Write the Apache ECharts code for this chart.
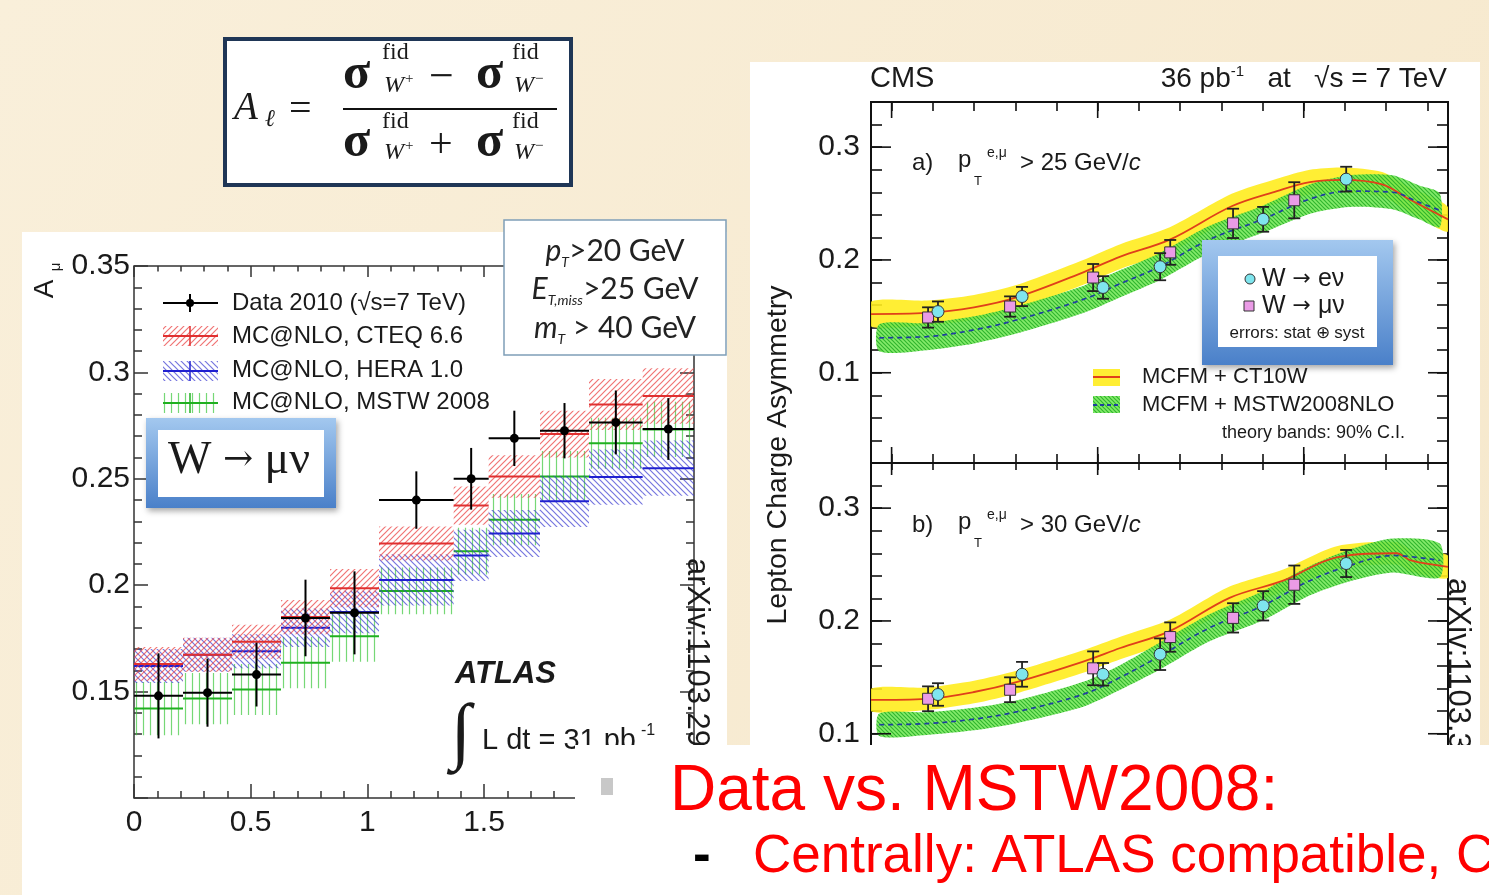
<!DOCTYPE html>
<html>
<head>
<meta charset="utf-8">
<script src="https://cdn.jsdelivr.net/npm/echarts@6.0.0/dist/echarts.min.js"></script>
<style>
html, body { margin: 0; padding: 0; background: #f8eedb; }
#main { width: 1489px; height: 895px; }
</style>
</head>
<body>
<div id="main"></div>
<script>
var SANS = 'Liberation Sans, Arial, sans-serif';
var SERIF = 'Liberation Serif, Times New Roman, serif';

// ATLAS muon charge asymmetry, bins in |eta|
var atlasEdges = [0, 0.21, 0.42, 0.63, 0.84, 1.05, 1.37, 1.52, 1.74, 1.95, 2.18, 2.4];
var atlasData = [0.148, 0.1495, 0.158, 0.1846, 0.187, 0.240, 0.250, 0.269, 0.2726, 0.2765, 0.2734];
var atlasDataErr = [0.020, 0.016, 0.015, 0.018, 0.0195, 0.0135, 0.0145, 0.013, 0.013, 0.015, 0.0145];
var cteq = [0.163, 0.1673, 0.1734, 0.185, 0.1986, 0.2196, 0.2374, 0.2511, 0.271, 0.2849, 0.2889];
var cteqErr = [0.008, 0.008, 0.008, 0.008, 0.009, 0.008, 0.009, 0.010, 0.011, 0.012, 0.013];
var hera = [0.162, 0.1673, 0.169, 0.180, 0.1874, 0.2025, 0.214, 0.2243, 0.2394, 0.2508, 0.255];
var heraErr = [0.008, 0.008, 0.008, 0.009, 0.010, 0.012, 0.012, 0.011, 0.012, 0.013, 0.013];
var mstw = [0.142, 0.1467, 0.151, 0.1636, 0.176, 0.1973, 0.216, 0.2308, 0.2511, 0.2667, 0.2732];
var mstwErr = [0.0125, 0.012, 0.012, 0.012, 0.012, 0.011, 0.011, 0.012, 0.012, 0.012, 0.013];

// CMS lepton charge asymmetry
var eEta = [0.225, 0.633, 1.026, 1.303, 1.803, 2.206];
var muEta = [0.177, 0.575, 0.978, 1.352, 1.657, 1.954];
var eA = [0.1542, 0.1676, 0.1756, 0.194, 0.236, 0.2716];
var eAErr = [0.009, 0.0085, 0.010, 0.012, 0.011, 0.011];
var muA = [0.149, 0.1587, 0.1844, 0.2067, 0.2324, 0.2529];
var muAErr = [0.009, 0.009, 0.012, 0.011, 0.013, 0.016];
var eB = [0.1348, 0.1527, 0.1527, 0.1705, 0.2134, 0.2509];
var eBErr = [0.010, 0.011, 0.010, 0.014, 0.013, 0.012];
var muB = [0.131, 0.139, 0.158, 0.1857, 0.2027, 0.2321];
var muBErr = [0.011, 0.011, 0.015, 0.013, 0.013, 0.017];

var ctEtaA = [-0.1, 0.17, 0.4, 0.61, 0.93, 1.11, 1.35, 1.65, 1.87, 2.03, 2.19, 2.38, 2.51, 2.7];
var ct10A = [0.152, 0.153, 0.158, 0.167, 0.189, 0.203, 0.218, 0.2476, 0.261, 0.269, 0.271, 0.267, 0.254, 0.236];
var ct10AErr = [0.011, 0.011, 0.011, 0.011, 0.011, 0.011, 0.011, 0.011, 0.011, 0.011, 0.011, 0.011, 0.011, 0.011];
var msEtaA = [-0.06, 0.17, 0.4, 0.61, 0.93, 1.11, 1.30, 1.54, 1.80, 2.03, 2.22, 2.43, 2.56, 2.66];
var mstwA = [0.131, 0.132, 0.138, 0.147, 0.165, 0.179, 0.194, 0.218, 0.236, 0.254, 0.261, 0.260, 0.251, 0.244];
var mstwAErr = [0.012, 0.012, 0.012, 0.012, 0.012, 0.012, 0.012, 0.012, 0.012, 0.013, 0.014, 0.015, 0.015, 0.015];

var ctEtaB = [-0.1, 0.17, 0.4, 0.61, 0.93, 1.11, 1.35, 1.64, 1.90, 2.16, 2.45, 2.52, 2.7];
var ct10B = [0.130, 0.131, 0.137, 0.146, 0.164, 0.176, 0.191, 0.2205, 0.2357, 0.2563, 0.260, 0.2536, 0.248];
var ct10BErr = [0.010, 0.010, 0.010, 0.010, 0.010, 0.010, 0.010, 0.010, 0.010, 0.010, 0.010, 0.010, 0.010];
var msEtaB = [-0.06, 0.17, 0.4, 0.61, 0.93, 1.11, 1.30, 1.54, 1.80, 2.03, 2.22, 2.43, 2.66];
var mstwB = [0.108, 0.109, 0.113, 0.1196, 0.135, 0.150, 0.1687, 0.1937, 0.2134, 0.2357, 0.249, 0.258, 0.2536];
var mstwBErr = [0.010, 0.010, 0.010, 0.010, 0.011, 0.011, 0.012, 0.012, 0.013, 0.013, 0.014, 0.015, 0.015];

// tick values of the CMS frames
var cmsXTicks = [0, 0.2, 0.4, 0.6, 0.8, 1, 1.2, 1.4, 1.6, 1.8, 2, 2.2, 2.4, 2.6];
var cmsXMajor = [0, 1, 2];
var cmsYTicks = [0.04, 0.06, 0.08, 0.1, 0.12, 0.14, 0.16, 0.18, 0.2, 0.22, 0.24, 0.26, 0.28, 0.3, 0.32];
var cmsYMajor = [0.1, 0.2, 0.3];

function hatch(stroke, kind, size, bg) {
  var c = document.createElement('canvas');
  c.width = size; c.height = size;
  var g = c.getContext('2d');
  if (bg) { g.fillStyle = bg; g.fillRect(0, 0, size, size); }
  g.strokeStyle = stroke; g.lineWidth = 1.2;
  g.beginPath();
  if (kind === '|') {
    g.moveTo(size / 2, 0); g.lineTo(size / 2, size);
  } else if (kind === '/') {
    g.moveTo(0, size); g.lineTo(size, 0);
    g.moveTo(-1, 1); g.lineTo(1, -1);
    g.moveTo(size - 1, size + 1); g.lineTo(size + 1, size - 1);
  } else {
    g.moveTo(0, 0); g.lineTo(size, size);
    g.moveTo(size - 1, -1); g.lineTo(size + 1, 1);
    g.moveTo(-1, size - 1); g.lineTo(1, size + 1);
  }
  g.stroke();
  return { image: c, repeat: 'repeat' };
}

var redHatch = hatch('rgba(235,70,70,0.75)', '/', 6);
var blueHatch = hatch('rgba(60,60,210,0.7)', '\\', 6);
var greenHatch = hatch('rgba(60,200,60,0.7)', '|', 7);
var cmsGreen = hatch('rgba(40,175,40,0.9)', '\\', 4, 'rgba(110,232,80,0.85)');
var cmsYellow = 'rgba(255,236,30,0.9)';

function binData(vals, errs) {
  return vals.map(function (v, i) { return [atlasEdges[i], atlasEdges[i + 1], v, errs[i]]; });
}

function bandRender(color, fill) {
  return function (params, api) {
    var x0 = api.value(0), x1 = api.value(1), y = api.value(2), e = api.value(3);
    var a = api.coord([x0, y + e]), b = api.coord([x1, y - e]);
    var c = api.coord([x0, y]), d = api.coord([x1, y]);
    return { type: 'group', children: [
      { type: 'rect', shape: { x: a[0], y: a[1], width: b[0] - a[0], height: b[1] - a[1] }, style: { fill: fill } },
      { type: 'line', shape: { x1: c[0], y1: c[1], x2: d[0], y2: d[1] }, style: { stroke: color, lineWidth: 2 } }
    ] };
  };
}

function atlasPoint(params, api) {
  var x0 = api.value(0), x1 = api.value(1), y = api.value(2), e = api.value(3), xm = (x0 + x1) / 2;
  var l = api.coord([x0, y]), r = api.coord([x1, y]), t = api.coord([xm, y + e]), b = api.coord([xm, y - e]);
  return { type: 'group', children: [
    { type: 'line', shape: { x1: l[0], y1: l[1], x2: r[0], y2: r[1] }, style: { stroke: '#000', lineWidth: 2 } },
    { type: 'line', shape: { x1: t[0], y1: t[1], x2: b[0], y2: b[1] }, style: { stroke: '#000', lineWidth: 2 } },
    { type: 'circle', shape: { cx: t[0], cy: l[1], r: 4.5 }, style: { fill: '#000' } }
  ] };
}

function cmsPoint(kind, fill) {
  return function (params, api) {
    var x = api.value(0), y = api.value(1), e = api.value(2);
    var p = api.coord([x, y]), t = api.coord([x, y + e]), b = api.coord([x, y - e]);
    var kids = [
      { type: 'line', shape: { x1: t[0], y1: t[1], x2: b[0], y2: b[1] }, style: { stroke: '#222', lineWidth: 1.8 } },
      { type: 'line', shape: { x1: t[0] - 6, y1: t[1], x2: t[0] + 6, y2: t[1] }, style: { stroke: '#222', lineWidth: 1.8 } },
      { type: 'line', shape: { x1: b[0] - 6, y1: b[1], x2: b[0] + 6, y2: b[1] }, style: { stroke: '#222', lineWidth: 1.8 } }
    ];
    if (kind === 'circle') {
      kids.push({ type: 'circle', shape: { cx: p[0], cy: p[1], r: 6 }, style: { fill: fill, stroke: '#333', lineWidth: 1 } });
    } else {
      kids.push({ type: 'rect', shape: { x: p[0] - 5.5, y: p[1] - 5.5, width: 11, height: 11 }, style: { fill: fill, stroke: '#333', lineWidth: 1 } });
    }
    return { type: 'group', children: kids };
  };
}

function pairs(xs, ys) { return xs.map(function (x, i) { return [x, ys[i]]; }); }

// one data item holding the whole band: x, low, high for every point
function bandSeries(ax, xs, vals, errs, fill) {
  var item = [], dims = [];
  xs.forEach(function (x, i) { item.push(x, vals[i] - errs[i], vals[i] + errs[i]); });
  item.forEach(function (v, k) { dims.push('d' + k); });
  var n = xs.length;
  return { type: 'custom', xAxisIndex: ax, yAxisIndex: ax, dimensions: dims, data: [item], clip: true, silent: true, z: 2,
    renderItem: function (params, api) {
      var top = [], bot = [];
      for (var i = 0; i < n; i++) {
        var x = api.value(3 * i);
        top.push(api.coord([x, api.value(3 * i + 2)]));
        bot.unshift(api.coord([x, api.value(3 * i + 1)]));
      }
      return { type: 'polygon', shape: { points: top.concat(bot), smooth: 0.25 }, style: { fill: fill } };
    } };
}

function curve(ax, xs, vals, style) {
  return { type: 'line', xAxisIndex: ax, yAxisIndex: ax, data: pairs(xs, vals), smooth: 0.35, symbol: 'none', lineStyle: style, silent: true, z: 3 };
}

// longer ticks at the major values of the CMS frames
function majorTicks(ax, xLen, yLen) {
  var data = cmsYMajor.map(function (v) { return [-0.1, v]; })
    .concat(cmsXMajor.map(function (v) { return [v, 0.02]; }));
  var s = { stroke: '#111', lineWidth: 1.6 };
  return { type: 'custom', xAxisIndex: ax, yAxisIndex: ax, data: data, silent: true, z: 5,
    renderItem: function (params, api) {
      var x = api.value(0), y = api.value(1), a, b;
      if (params.dataIndex < cmsYMajor.length) {
        a = api.coord([-0.1, y]); b = api.coord([2.7, y]);
        return { type: 'group', children: [
          { type: 'line', shape: { x1: a[0], y1: a[1], x2: a[0] + yLen, y2: a[1] }, style: s },
          { type: 'line', shape: { x1: b[0], y1: b[1], x2: b[0] - yLen, y2: b[1] }, style: s }
        ] };
      }
      a = api.coord([x, 0.34]); b = api.coord([x, 0.02]);
      return { type: 'group', children: [
        { type: 'line', shape: { x1: a[0], y1: a[1], x2: a[0], y2: a[1] + xLen }, style: s },
        { type: 'line', shape: { x1: b[0], y1: b[1], x2: b[0], y2: b[1] - xLen }, style: s }
      ] };
    } };
}

var tickStyle = { color: '#111', width: 1.6 };
function cmsX(grid, pos, vals, len) {
  return { gridIndex: grid, type: 'value', position: pos, min: -0.1, max: 2.7,
    axisLine: { show: false, onZero: false }, axisTick: { show: len > 0, inside: true, length: len, customValues: vals, lineStyle: tickStyle },
    axisLabel: { show: false }, splitLine: { show: false } };
}
function cmsY(grid, pos, labels) {
  return { gridIndex: grid, type: 'value', position: pos, min: 0.02, max: 0.34,
    axisLine: { show: false, onZero: false }, axisTick: { show: true, inside: true, length: 11, customValues: cmsYTicks, lineStyle: tickStyle },
    axisLabel: labels ? { show: true, customValues: cmsYMajor, margin: 11, fontSize: 30, fontFamily: SANS, color: '#1a1a1a' } : { show: false },
    splitLine: { show: false } };
}

var atlasTick = { color: '#333', width: 1.5 };
function atlasX(pos, labels, len) {
  return { gridIndex: 0, type: 'value', position: pos, min: 0, max: 2.4, interval: 0.5,
    axisLine: { show: false, onZero: false }, axisTick: { inside: true, length: len, lineStyle: atlasTick },
    minorTick: { show: true, splitNumber: 5, length: len / 2, lineStyle: atlasTick },
    axisLabel: labels ? { margin: 10, fontSize: 30, fontFamily: SANS, color: '#1a1a1a' } : { show: false },
    splitLine: { show: false } };
}
function atlasY(pos, labels) {
  return { gridIndex: 0, type: 'value', position: pos, min: 0.1, max: 0.35, interval: 0.05,
    axisLine: { show: false, onZero: false }, axisTick: { inside: true, length: 14, lineStyle: atlasTick },
    minorTick: { show: true, splitNumber: 5, length: 8, lineStyle: atlasTick },
    axisLabel: labels ? { margin: 4, fontSize: 30, fontFamily: SANS, color: '#1a1a1a',
      formatter: function (v) { return v < 0.12 ? '' : String(+v.toFixed(2)); } } : { show: false },
    splitLine: { show: false } };
}

function txt(x, y, s, size, o) {
  o = o || {};
  return { type: 'text', x: x, y: y, rotation: o.rot || 0, z: o.z || 10, silent: true,
    style: { text: s, fontSize: size, fontFamily: o.family || SANS, fontWeight: o.weight || 'normal',
      fontStyle: o.style || 'normal', fill: o.color || '#1a1a1a', align: o.align || 'left',
      verticalAlign: o.va || 'middle', rich: o.rich } };
}
function rect(x, y, w, h, style, z) {
  return { type: 'rect', shape: { x: x, y: y, width: w, height: h }, style: style, z: z, silent: true };
}
function seg(x1, y1, x2, y2, style, z) {
  return { type: 'line', shape: { x1: x1, y1: y1, x2: x2, y2: y2 }, style: style, z: z || 10, silent: true };
}

var blueGrad = { type: 'linear', x: 0, y: 0, x2: 0, y2: 1,
  colorStops: [{ offset: 0, color: '#a3c8ef' }, { offset: 1, color: '#4a80c9' }] };

var cutRich = {
  i: { fontFamily: 'Lato', fontStyle: 'italic', fontSize: 30, lineHeight: 36, fill: '#222' },
  s: { fontFamily: 'Lato', fontStyle: 'italic', fontSize: 14, lineHeight: 36, verticalAlign: 'bottom', fill: '#222' },
  n: { fontFamily: 'Lato', fontSize: 30, lineHeight: 36, fill: '#222' }
};
var cRich = { c: { fontStyle: 'italic', fontSize: 24, fontFamily: SANS, fill: '#1a1a1a' } };
var arrowRich = { r: { fontFamily: 'DejaVu Sans', fontSize: 22, fill: '#1a1a1a' } };
var arrowRichSerif = { r: { fontFamily: 'DejaVu Serif', fontSize: 36, fill: '#1a1a1a' } };

var graphics = [
  rect(0, 0, 1489, 895, { fill: { type: 'linear', x: 0, y: 0, x2: 1, y2: 1,
    colorStops: [{ offset: 0, color: '#f9efda' }, { offset: 1, color: '#f6e8cc' }] } }, -20),
  rect(22, 232, 705, 663, { fill: '#fff' }, -10),
  rect(750, 62, 730, 683, { fill: '#fff' }, -10),

  // formula box
  rect(225, 39, 346, 146, { fill: '#fff', stroke: '#1f3656', lineWidth: 4 }, -5),
  txt(234, 109, 'A', 39, { family: SERIF, style: 'italic' }),
  txt(265, 120, 'ℓ', 24, { family: SERIF, style: 'italic' }),
  txt(289, 110, '=', 40, { family: SERIF }),
  txt(343, 75, 'σ', 50, { family: SERIF, weight: 'bold' }),
  txt(382, 53, 'fid', 24, { family: SERIF }),
  txt(384, 86, 'W', 24, { family: SERIF, style: 'italic' }),
  txt(405, 79, '+', 15, { family: SERIF }),
  txt(429, 78, '−', 44, { family: SERIF }),
  txt(476, 75, 'σ', 50, { family: SERIF, weight: 'bold' }),
  txt(512, 53, 'fid', 24, { family: SERIF }),
  txt(514, 86, 'W', 24, { family: SERIF, style: 'italic' }),
  txt(535, 79, '−', 15, { family: SERIF }),
  rect(343, 108, 214, 2, { fill: '#111' }, 10),
  txt(343, 143, 'σ', 50, { family: SERIF, weight: 'bold' }),
  txt(382, 122, 'fid', 24, { family: SERIF }),
  txt(384, 153, 'W', 24, { family: SERIF, style: 'italic' }),
  txt(405, 146, '+', 15, { family: SERIF }),
  txt(429, 146, '+', 42, { family: SERIF }),
  txt(476, 143, 'σ', 50, { family: SERIF, weight: 'bold' }),
  txt(512, 122, 'fid', 24, { family: SERIF }),
  txt(514, 153, 'W', 24, { family: SERIF, style: 'italic' }),
  txt(535, 146, '−', 15, { family: SERIF }),

  // ATLAS axis title
  txt(45, 289, 'A', 28, { rot: Math.PI / 2, align: 'center' }),
  txt(56, 267, 'μ', 15, { rot: Math.PI / 2, align: 'center' }),

  // ATLAS legend
  seg(163, 303, 218, 303, { stroke: '#000', lineWidth: 2 }),
  seg(190, 294, 190, 312, { stroke: '#000', lineWidth: 2 }),
  { type: 'circle', shape: { cx: 190, cy: 303, r: 4 }, style: { fill: '#000' }, z: 10, silent: true },
  rect(163, 326, 55, 20, { fill: redHatch }, 9),
  seg(163, 336, 218, 336, { stroke: '#e03030', lineWidth: 2 }),
  seg(190, 326, 190, 346, { stroke: '#e03030', lineWidth: 1.5 }),
  rect(163, 361, 55, 20, { fill: blueHatch }, 9),
  seg(163, 371, 218, 371, { stroke: '#2020d0', lineWidth: 2 }),
  seg(190, 361, 190, 381, { stroke: '#2020d0', lineWidth: 1.5 }),
  rect(163, 393, 55, 20, { fill: greenHatch }, 9),
  seg(163, 403, 218, 403, { stroke: '#20b020', lineWidth: 2 }),
  seg(190, 393, 190, 413, { stroke: '#20b020', lineWidth: 1.5 }),
  txt(232, 303, 'Data 2010 (√s=7 TeV)', 24),
  txt(232, 336, 'MC@NLO, CTEQ 6.6', 24),
  txt(232, 370, 'MC@NLO, HERA 1.0', 24),
  txt(232, 402, 'MC@NLO, MSTW 2008', 24),

  // W -> mu nu box
  rect(146, 418, 190, 90, { fill: blueGrad, shadowBlur: 6, shadowColor: 'rgba(0,0,0,0.35)', shadowOffsetX: 2, shadowOffsetY: 3 }, 50),
  rect(158, 430, 166, 67, { fill: '#fff' }, 51),
  txt(239, 461, 'W {r|→} μν', 46, { family: SERIF, align: 'center', z: 52, rich: arrowRichSerif }),

  // ATLAS label
  txt(455, 674, 'ATLAS', 31, { weight: 'bold', style: 'italic' }),
  txt(461, 736, '∫', 74, { family: SERIF, align: 'center' }),
  txt(482, 741, 'L dt = 31 pb', 29),
  txt(641, 731, '-1', 16),
  txt(697, 558, 'arXiv:1103.2929', 31, { rot: -Math.PI / 2 }),

  // ATLAS cut box
  rect(504, 220, 222, 135, { fill: '#fff', stroke: '#7f9fb8', lineWidth: 1.5 }, 20),
  txt(615, 251, '{i|p}{s|T}{n|>20 GeV}', 30, { align: 'center', rich: cutRich, z: 21 }),
  txt(615, 289, '{i|E}{s|T,miss}{n|>25 GeV}', 30, { align: 'center', rich: cutRich, z: 21 }),
  txt(615, 328, '{i|m}{s|T}{n| > 40 GeV}', 30, { align: 'center', rich: cutRich, z: 21 }),

  // CMS labels
  txt(870, 79, 'CMS', 29),
  txt(1447, 79, '{a|36 pb}{u|-1}{a|   at   √s = 7 TeV}', 28, { align: 'right', rich: {
    a: { fontSize: 28, lineHeight: 30, fontFamily: SANS, fill: '#1a1a1a' },
    u: { fontSize: 15, lineHeight: 30, verticalAlign: 'top', fontFamily: SANS, fill: '#1a1a1a' } } }),
  txt(778, 455, 'Lepton Charge Asymmetry', 28.5, { rot: Math.PI / 2, align: 'center' }),
  txt(912, 163, 'a)', 24),
  txt(958, 160, 'p', 24),
  txt(974, 181, 'T', 13),
  txt(987, 153, 'e,μ', 14),
  txt(1020, 163, '> 25 GeV/{c|c}', 24, { rich: cRich }),
  txt(912, 525, 'b)', 24),
  txt(958, 522, 'p', 24),
  txt(974, 543, 'T', 13),
  txt(987, 515, 'e,μ', 14),
  txt(1020, 525, '> 30 GeV/{c|c}', 24, { rich: cRich }),
  txt(1458, 578, 'arXiv:1103.3470', 31, { rot: -Math.PI / 2 }),

  // CMS data legend box
  rect(1202, 240, 191, 125, { fill: blueGrad, shadowBlur: 6, shadowColor: 'rgba(0,0,0,0.35)', shadowOffsetX: 2, shadowOffsetY: 3 }, 50),
  rect(1218, 256, 159, 91, { fill: '#fff' }, 51),
  { type: 'circle', shape: { cx: 1250, cy: 279, r: 5 }, style: { fill: '#7fe5ee', stroke: '#333', lineWidth: 1 }, z: 52, silent: true },
  txt(1262, 279, 'W {r|→} eν', 25, { z: 52, rich: arrowRich }),
  rect(1244, 301, 10, 10, { fill: '#ea9be6', stroke: '#333', lineWidth: 1 }, 52),
  txt(1262, 306, 'W {r|→} μν', 25, { z: 52, rich: arrowRich }),
  txt(1297, 333, 'errors: stat ⊕ syst', 17, { align: 'center', z: 52 }),

  // CMS theory legend
  rect(1093, 369, 27, 17, { fill: cmsYellow }, 9),
  seg(1093, 377, 1120, 377, { stroke: '#e0401a', lineWidth: 2 }),
  rect(1093, 396, 27, 17, { fill: cmsGreen }, 9),
  seg(1093, 405, 1120, 405, { stroke: '#1f3f9f', lineWidth: 2, lineDash: [4, 3] }),
  txt(1142, 377, 'MCFM + CT10W', 22),
  txt(1142, 405, 'MCFM + MSTW2008NLO', 22),
  txt(1222, 433, 'theory bands: 90% C.I.', 18),

  // bottom text area
  rect(575, 745, 914, 150, { fill: '#fff' }, 100),
  rect(601, 778, 12, 17, { fill: '#c8c8c8' }, 101),
  txt(670, 792, 'Data vs. MSTW2008:', 64, { color: '#ff0000', z: 101 }),
  txt(693, 857, '-', 53, { color: '#000', weight: 'bold', z: 101 }),
  txt(753, 857, 'Centrally: ATLAS compatible, CMS not', 53, { color: '#ff0000', z: 101 })
];

var option = {
  animation: false,
  backgroundColor: 'transparent',
  grid: [
    { left: 134, top: 266, width: 560, height: 532, show: true, borderColor: '#333', borderWidth: 1.5 },
    { left: 871, top: 102, width: 577, height: 361, show: true, borderColor: '#111', borderWidth: 2 },
    { left: 871, top: 463, width: 577, height: 361, show: true, borderColor: '#111', borderWidth: 2 }
  ],
  xAxis: [
    atlasX('bottom', true, 14),
    atlasX('top', false, 11),
    cmsX(1, 'bottom', cmsXTicks, 9),
    cmsX(1, 'top', cmsXTicks, 9),
    cmsX(2, 'bottom', [], 0),
    cmsX(2, 'top', cmsXTicks, 7)
  ],
  yAxis: [
    atlasY('left', true),
    atlasY('right', false),
    cmsY(1, 'left', true),
    cmsY(1, 'right', false),
    cmsY(2, 'left', true),
    cmsY(2, 'right', false)
  ],
  graphic: { elements: graphics },
  series: [
    { type: 'custom', xAxisIndex: 0, yAxisIndex: 0, data: binData(mstw, mstwErr), renderItem: bandRender('#20b020', greenHatch), silent: true, z: 2 },
    { type: 'custom', xAxisIndex: 0, yAxisIndex: 0, data: binData(hera, heraErr), renderItem: bandRender('#2020d0', blueHatch), silent: true, z: 2 },
    { type: 'custom', xAxisIndex: 0, yAxisIndex: 0, data: binData(cteq, cteqErr), renderItem: bandRender('#e03030', redHatch), silent: true, z: 2 },
    { type: 'custom', xAxisIndex: 0, yAxisIndex: 0, data: binData(atlasData, atlasDataErr), renderItem: atlasPoint, silent: true, z: 4 },

    bandSeries(2, ctEtaA, ct10A, ct10AErr, cmsYellow),
    bandSeries(2, msEtaA, mstwA, mstwAErr, cmsGreen),
    curve(2, ctEtaA, ct10A, { color: '#e0401a', width: 1.8 }),
    curve(2, msEtaA, mstwA, { color: '#1f3f9f', width: 1.7, type: [5, 4] }),
    { type: 'custom', xAxisIndex: 2, yAxisIndex: 2, data: muEta.map(function (x, i) { return [x, muA[i], muAErr[i]]; }), renderItem: cmsPoint('square', '#ea9be6'), silent: true, z: 4 },
    { type: 'custom', xAxisIndex: 2, yAxisIndex: 2, data: eEta.map(function (x, i) { return [x, eA[i], eAErr[i]]; }), renderItem: cmsPoint('circle', '#7fe5ee'), silent: true, z: 4 },
    majorTicks(2, 16, 20),

    bandSeries(4, ctEtaB, ct10B, ct10BErr, cmsYellow),
    bandSeries(4, msEtaB, mstwB, mstwBErr, cmsGreen),
    curve(4, ctEtaB, ct10B, { color: '#e0401a', width: 1.8 }),
    curve(4, msEtaB, mstwB, { color: '#1f3f9f', width: 1.7, type: [5, 4] }),
    { type: 'custom', xAxisIndex: 4, yAxisIndex: 4, data: muEta.map(function (x, i) { return [x, muB[i], muBErr[i]]; }), renderItem: cmsPoint('square', '#ea9be6'), silent: true, z: 4 },
    { type: 'custom', xAxisIndex: 4, yAxisIndex: 4, data: eEta.map(function (x, i) { return [x, eB[i], eBErr[i]]; }), renderItem: cmsPoint('circle', '#7fe5ee'), silent: true, z: 4 },
    majorTicks(4, 12, 20)
  ]
};

var chart = echarts.init(document.getElementById('main'), null, { renderer: 'canvas' });
chart.setOption(option);
</script>
</body>
</html>
